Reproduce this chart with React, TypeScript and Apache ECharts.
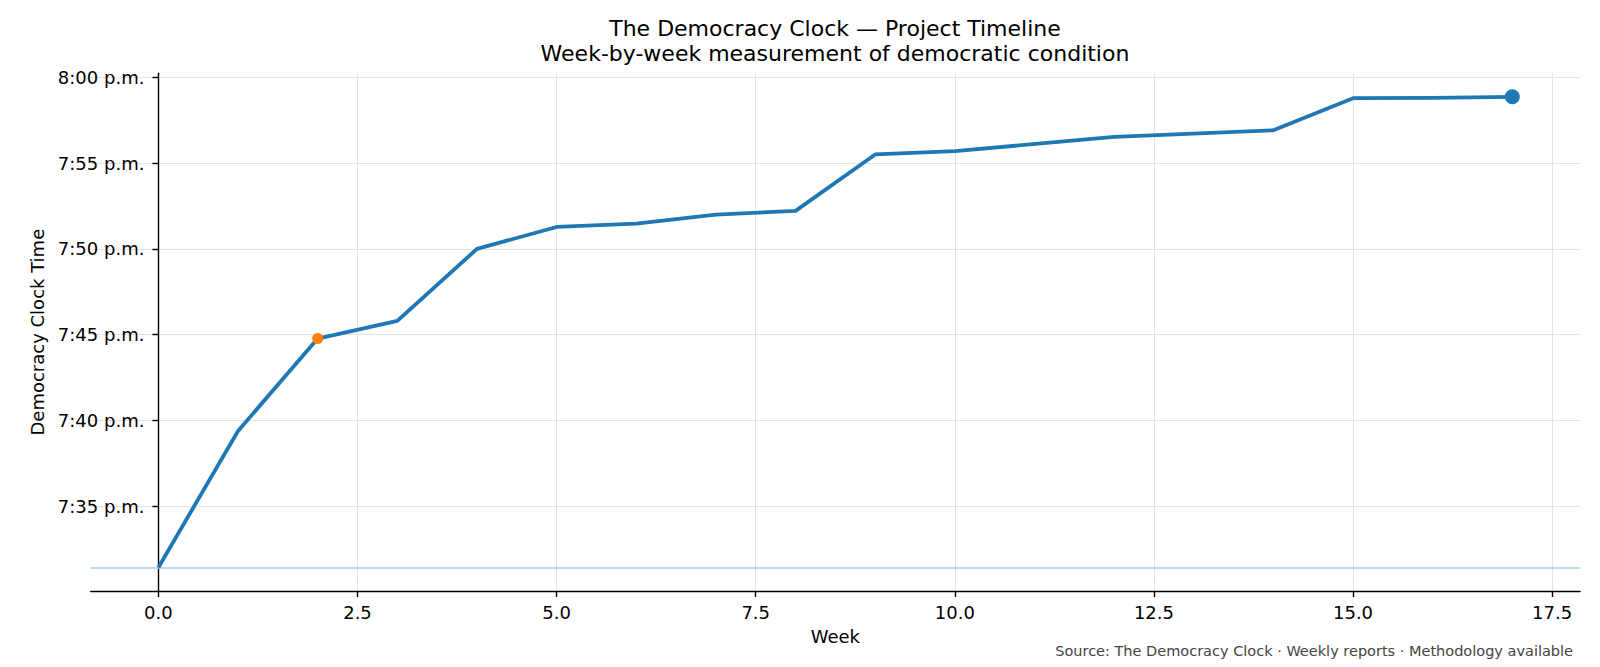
import React, { useEffect, useRef } from "react";
import * as echarts from "echarts";

const weeks = [0, 1, 2, 3, 4, 5, 6, 7, 8, 9, 10, 12, 14, 15, 16, 17];
// minutes past 7:00 p.m.
const clockMinutes = [31.42, 39.38, 44.77, 45.8, 50.0, 51.28, 51.48, 52.0, 52.22, 55.51, 55.7, 56.54, 56.92, 58.79, 58.81, 58.87];
const xTicks = [0, 2.5, 5, 7.5, 10, 12.5, 15, 17.5];
const yTicks = [35, 40, 45, 50, 55, 60];
const highlightWeek = 2;
const titleText = "The Democracy Clock — Project Timeline\nWeek-by-week measurement of democratic condition";
const sourceText = "Source: The Democracy Clock · Weekly reports · Methodology available";

const FONT = "DejaVu Sans";
const GRID_LEFT = 90.7;
const GRID_RIGHT = 20;
const WIDTH = 1600;

function fmtClock(v: number): string {
  const total = Math.round(v);
  const h = 7 + Math.floor(total / 60);
  const m = total % 60;
  return `${h}:${String(m).padStart(2, "0")} p.m.`;
}

export default function App() {
  const ref = useRef<HTMLDivElement>(null);
  useEffect(() => {
    if (!ref.current) return;
    const chart = echarts.init(ref.current, undefined, { renderer: "svg" });
    const xLo = Math.min(...weeks), xHi = Math.max(...weeks);
    const yLo = Math.min(...clockMinutes), yHi = Math.max(...clockMinutes);
    const xm = (xHi - xLo) * 0.05, ym = (yHi - yLo) * 0.05;
    const xMin = xLo - xm, xMax = xHi + xm;
    const plotW = WIDTH - GRID_LEFT - GRID_RIGHT;
    // place the y spine at x = 0 (like a matplotlib spine set to data position 0)
    const yOffset = -((0 - xMin) / (xMax - xMin)) * plotW;
    const lineData = weeks.map((w, i) => [w, clockMinutes[i]]);
    const hiIdx = weeks.indexOf(highlightWeek);
    const lastIdx = weeks.length - 1;
    chart.setOption({
      animation: false,
      textStyle: { fontFamily: FONT },
      title: {
        text: titleText,
        left: 835,
        top: 16,
        padding: 0,
        textAlign: "center",
        textStyle: { fontFamily: FONT, fontSize: 22, fontWeight: "normal", color: "#000", lineHeight: 25 },
      },
      grid: { left: GRID_LEFT, right: GRID_RIGHT, top: 73.3, bottom: 76, containLabel: false, outerBoundsMode: "none" },
      xAxis: {
        type: "value",
        min: xMin,
        max: xMax,
        name: "Week",
        nameLocation: "middle",
        nameGap: 36,
        nameTextStyle: { fontFamily: FONT, fontSize: 18, color: "#000" },
        axisLine: { show: true, onZero: false, lineStyle: { color: "#000", width: 1.4 } },
        axisTick: { show: true, length: 6, customValues: xTicks, lineStyle: { color: "#000", width: 1.4 } },
        axisLabel: { customValues: xTicks, margin: 12, fontFamily: FONT, fontSize: 18, color: "#000", formatter: (v: number) => v.toFixed(1) },
        splitLine: { show: true, lineStyle: { color: "#e3e3e3", width: 1 } },
      },
      yAxis: {
        type: "value",
        min: yLo - ym,
        max: yHi + ym,
        offset: yOffset,
        name: "Democracy Clock Time",
        nameLocation: "middle",
        nameGap: 110,
        nameTextStyle: { fontFamily: FONT, fontSize: 18, color: "#000" },
        axisLine: { show: true, onZero: false, lineStyle: { color: "#000", width: 1.4 } },
        axisTick: { show: true, length: 6, customValues: yTicks, lineStyle: { color: "#000", width: 1.4 } },
        axisLabel: { customValues: yTicks, margin: 14, fontFamily: FONT, fontSize: 18, color: "#000", formatter: (v: number) => fmtClock(v) },
        splitLine: { show: true, lineStyle: { color: "#e3e3e3", width: 1 } },
      },
      series: [
        {
          type: "line",
          data: lineData,
          showSymbol: false,
          symbol: "none",
          lineStyle: { color: "#1f77b4", width: 3.8, join: "round" },
          z: 3,
          markLine: {
            silent: true,
            symbol: ["none", "none"],
            label: { show: false },
            lineStyle: { color: "#a9cbe3", width: 1.5, type: "solid" },
            data: [{ yAxis: clockMinutes[0] }],
            z: 1,
          },
        },
        {
          type: "scatter",
          data: [lineData[hiIdx]],
          symbol: "circle",
          symbolSize: 11,
          itemStyle: { color: "#ff7f0e", opacity: 1 },
          z: 4,
        },
        {
          type: "scatter",
          data: [lineData[lastIdx]],
          symbol: "circle",
          symbolSize: 15,
          itemStyle: { color: "#1f77b4", opacity: 1 },
          z: 4,
        },
      ],
      graphic: [
        {
          type: "text",
          right: 27,
          top: 643,
          style: { text: sourceText, font: `14.5px "${FONT}"`, fill: "#444", textAlign: "right" },
        },
      ],
    });
    return () => chart.dispose();
  }, []);
  return <div ref={ref} style={{ position: "absolute", left: 0, top: 0, width: 1600, height: 667 }} />;
}
